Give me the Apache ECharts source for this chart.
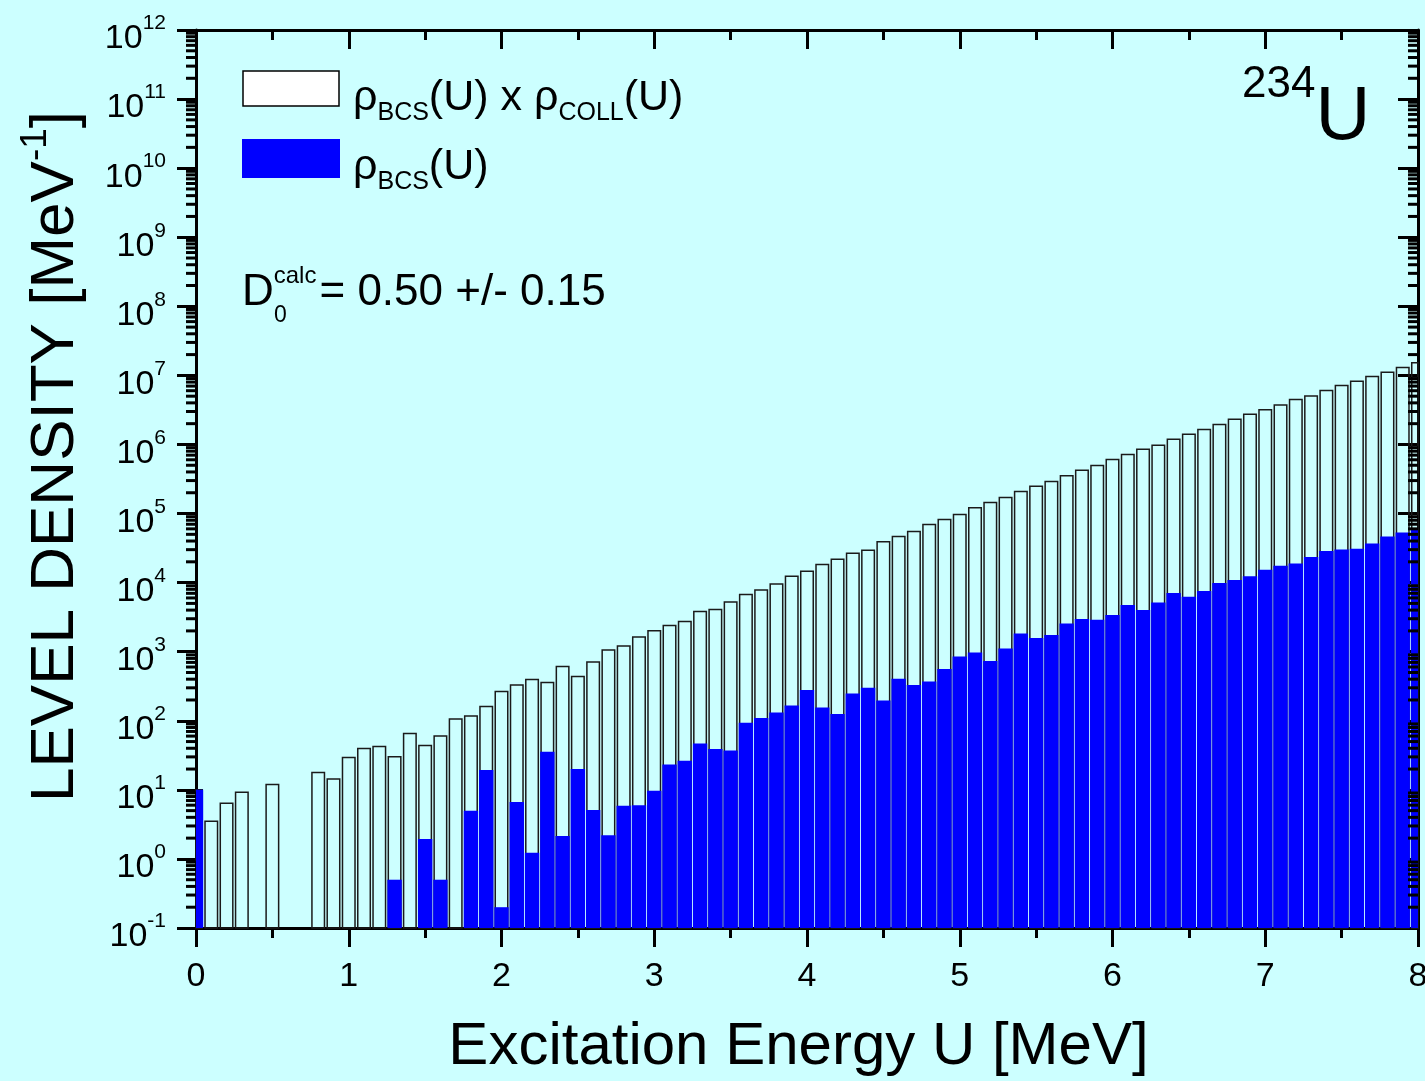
<!DOCTYPE html>
<html>
<head>
<meta charset="utf-8">
<title>234U level density</title>
<script src="https://cdn.jsdelivr.net/npm/echarts@6/dist/echarts.min.js"></script>
<style>
html, body { margin: 0; padding: 0; background: #ccffff; overflow: hidden; }
#chart { width: 1425px; height: 1081px; }
</style>
</head>
<body>
<div id="chart"></div>
<script>
var FONT = "'Liberation Sans', Arial, Helvetica, sans-serif";

// excitation energy bins [MeV]
var energies = [
	0.0, 0.1, 0.2, 0.3, 0.4, 0.5, 0.6, 0.7, 0.8, 0.9,
	1.0, 1.1, 1.2, 1.3, 1.4, 1.5, 1.6, 1.7, 1.8, 1.9,
	2.0, 2.1, 2.2, 2.3, 2.4, 2.5, 2.6, 2.7, 2.8, 2.9,
	3.0, 3.1, 3.2, 3.3, 3.4, 3.5, 3.6, 3.7, 3.8, 3.9,
	4.0, 4.1, 4.2, 4.3, 4.4, 4.5, 4.6, 4.7, 4.8, 4.9,
	5.0, 5.1, 5.2, 5.3, 5.4, 5.5, 5.6, 5.7, 5.8, 5.9,
	6.0, 6.1, 6.2, 6.3, 6.4, 6.5, 6.6, 6.7, 6.8, 6.9,
	7.0, 7.1, 7.2, 7.3, 7.4, 7.5, 7.6, 7.7, 7.8, 7.9,
	8.0
];
// rho_BCS(U) x rho_COLL(U)  (open bars)
var rhoTotal = [
	10, 3.5, 6.4, 9.2, null, 12.0, null, null, 17.9, 14.3,
	29.4, 39.7, 42.5, 30.1, 65.5, 44, 60, 106, 117, 161,
	266, 329, 396, 358, 611, 437, 707, 1055, 1205, 1627,
	2009, 2393, 2737, 3819, 4080, 5220, 6725, 7790, 9510, 12400,
	14660, 18280, 21880, 26720, 29530, 38920, 46460, 54900, 69300, 81900,
	96800, 120900, 144300, 170500, 208000, 249000, 290500, 351400, 424700, 495000,
	605000, 714000, 855000, 977000, 1190000, 1410000, 1640000, 1940000, 2320000, 2740000,
	3170000, 3740000, 4470000, 5050000, 6030000, 7120000, 8240000, 9600000, 11100000, 13000000,
	15300000
];
// rho_BCS(U)  (filled bars)
var rhoBCS = [
	10, null, null, null, null, null, null, null, null, null,
	null, null, null, 0.5, null, 1.94, 0.5, null, 5.0, 19.4,
	0.2, 6.65, 1.23, 35.6, 2.14, 20, 5.1, 2.2, 5.9, 6.0,
	9.7, 23.3, 26.4, 46.9, 38.9, 37.2, 93.6, 110, 132, 167,
	278, 156, 125, 248, 300, 197, 405, 329, 371, 560,
	853, 973, 731, 1113, 1834, 1573, 1738, 2560, 2964, 2896,
	3388, 4725, 4000, 5152, 7050, 6230, 7540, 9840, 10870, 12400,
	15320, 17500, 18900, 23400, 28580, 30150, 30830, 36800, 46460, 53100,
	58100
];
var xTicks = [0, 1, 2, 3, 4, 5, 6, 7, 8];
var yMin = 0.1, yMax = 1e12;
var minorMult = [2, 3, 4, 5, 6, 7, 8, 9];
var decades = [-1, 0, 1, 2, 3, 4, 5, 6, 7, 8, 9, 10, 11];

var minorVals = [];
decades.forEach(function (k) {
	minorMult.forEach(function (m) {
		minorVals.push([0, m * Math.pow(10, k)]);
	});
});

function pairs(vals) {
	var out = [];
	for (var i = 0; i < energies.length; i++) {
		if (vals[i] != null) out.push([energies[i], vals[i]]);
	}
	return out;
}

function barRender(width, style) {
	return function (params, api) {
		var u = api.value(0), v = api.value(1);
		var p0 = api.coord([u - width / 2, v]);
		var p1 = api.coord([u + width / 2, yMin]);
		var rect = echarts.graphic.clipRectByRect(
			{ x: p0[0], y: p0[1], width: p1[0] - p0[0], height: p1[1] - p0[1] },
			{ x: params.coordSys.x, y: params.coordSys.y, width: params.coordSys.width, height: params.coordSys.height }
		);
		if (!rect) return null;
		return { type: 'rect', shape: rect, style: style };
	};
}

function minorTickRender(params, api) {
	var v = api.value(1);
	var l = api.coord([xTicks[0], v]);
	var r = api.coord([xTicks[xTicks.length - 1], v]);
	var st = { stroke: '#000', lineWidth: 3 };
	return {
		type: 'group',
		children: [
			{ type: 'line', shape: { x1: l[0] - 10, y1: l[1], x2: l[0], y2: l[1] }, style: st },
			{ type: 'line', shape: { x1: r[0] - 10, y1: r[1], x2: r[0], y2: r[1] }, style: st }
		]
	};
}

var axisLineStyle = { color: '#000', width: 3 };
var legendRich = {
	m: { fontSize: 43, lineHeight: 43, fontFamily: FONT, fill: '#000', verticalAlign: 'top' },
	s: { fontSize: 25, lineHeight: 25, fontFamily: FONT, fill: '#000', verticalAlign: 'top', padding: [24, 0, 0, 0] }
};

var chart = echarts.init(document.getElementById('chart'));
chart.setOption({
	animation: false,
	backgroundColor: '#ccffff',
	grid: { left: 196, right: 7, top: 30, bottom: 153, containLabel: false, outerBoundsMode: 'none' },
	xAxis: [{
		type: 'value', position: 'bottom', min: 0, max: 8, interval: 1,
		axisLine: { onZero: false, lineStyle: axisLineStyle },
		axisTick: { inside: false, length: 19, lineStyle: { color: '#000', width: 3 } },
		minorTick: { show: true, splitNumber: 2, length: 10, lineStyle: { color: '#000', width: 3 } },
		splitLine: { show: false },
		axisLabel: { color: '#000', fontSize: 34, fontFamily: FONT, margin: 32 },
		name: 'Excitation Energy U [MeV]',
		nameLocation: 'middle', nameGap: 89,
		nameTextStyle: { color: '#000', fontSize: 60, fontFamily: FONT, padding: [0, 17, 0, 0] }
	}, {
		type: 'value', position: 'top', min: 0, max: 8, interval: 1,
		axisLine: { onZero: false, lineStyle: axisLineStyle },
		axisTick: { inside: true, length: 19, lineStyle: { color: '#000', width: 3 } },
		minorTick: { show: true, splitNumber: 2, length: 10, lineStyle: { color: '#000', width: 3 } },
		splitLine: { show: false },
		axisLabel: { show: false }
	}],
	yAxis: [{
		type: 'log', logBase: 10, position: 'left', min: yMin, max: yMax, interval: 1,
		axisLine: { onZero: false, lineStyle: axisLineStyle },
		axisTick: { inside: false, length: 19, lineStyle: { color: '#000', width: 3 } },
		splitLine: { show: false },
		axisLabel: {
			color: '#000', margin: 30, showMinLabel: true, showMaxLabel: true,
			formatter: function (val) {
				return '{b|10}{e|' + Math.round(Math.log10(val)) + '}';
			},
			rich: {
				b: { fontSize: 34, lineHeight: 34, fontFamily: FONT, color: '#000', verticalAlign: 'top', padding: [9, 0, 0, 0] },
				e: { fontSize: 21, lineHeight: 21, fontFamily: FONT, color: '#000', verticalAlign: 'top' }
			}
		},
		name: '{m|LEVEL DENSITY [MeV}{s|-1}{m|]}',
		nameLocation: 'middle', nameGap: 117, nameRotate: 90,
		nameTextStyle: {
			padding: [0, 0, 0, 45],
			rich: {
				m: { fontSize: 62, lineHeight: 62, fontFamily: FONT, color: '#000', verticalAlign: 'top', padding: [8, 0, 0, 0] },
				s: { fontSize: 37, lineHeight: 37, fontFamily: FONT, color: '#000', verticalAlign: 'top' }
			}
		}
	}, {
		type: 'log', logBase: 10, position: 'right', min: yMin, max: yMax, interval: 1,
		axisLine: { onZero: false, lineStyle: axisLineStyle },
		axisTick: { inside: true, length: 20, lineStyle: { color: '#000', width: 3 } },
		splitLine: { show: false },
		axisLabel: { show: false }
	}],
	series: [{
		name: 'rhoTotal', type: 'custom', xAxisIndex: 0, yAxisIndex: 0,
		renderItem: barRender(0.082, { fill: 'none', stroke: '#1a1a1a', lineWidth: 1.5 }),
		data: pairs(rhoTotal), silent: true
	}, {
		name: 'rhoBCS', type: 'custom', xAxisIndex: 0, yAxisIndex: 0,
		renderItem: barRender(0.094, { fill: '#0000ff' }),
		data: pairs(rhoBCS), silent: true
	}, {
		name: 'minorTicks', type: 'custom', xAxisIndex: 0, yAxisIndex: 0,
		renderItem: minorTickRender, data: minorVals, silent: true, clip: false
	}],
	graphic: [
		// legend boxes
		{ type: 'rect', shape: { x: 243, y: 71, width: 96, height: 35 }, style: { fill: '#fff', stroke: '#000', lineWidth: 1.5 } },
		{ type: 'rect', shape: { x: 242, y: 139, width: 98, height: 39 }, style: { fill: '#0000ff' } },
		{
			type: 'text', x: 353, y: 77,
			style: { text: '{m|ρ}{s|BCS}{m|(U) x ρ}{s|COLL}{m|(U)}', align: 'left', verticalAlign: 'top', rich: legendRich }
		},
		{
			type: 'text', x: 353, y: 146,
			style: { text: '{m|ρ}{s|BCS}{m|(U)}', align: 'left', verticalAlign: 'top', rich: legendRich }
		},
		// D0 calc
		{
			type: 'text', x: 242, y: 264,
			style: {
				text: '{m|D}{u|calc}{m|= 0.50 +/- 0.15}', align: 'left', verticalAlign: 'top',
				rich: {
					m: { fontSize: 44, lineHeight: 44, fontFamily: FONT, fill: '#000', verticalAlign: 'top', padding: [7, 0, 0, 0] },
					u: { fontSize: 24, lineHeight: 24, fontFamily: FONT, fill: '#000', verticalAlign: 'top', padding: [0, 3, 0, 0] }
				}
			}
		},
		{
			type: 'text', x: 274, y: 316,
			style: { text: '0', fontSize: 23, fontFamily: FONT, fill: '#000', align: 'left', verticalAlign: 'middle' }
		},
		// nucleus label
		{
			type: 'text', x: 1242, y: 63,
			style: {
				text: '{s|234}{m|U}', align: 'left', verticalAlign: 'top',
				rich: {
					s: { fontSize: 44, lineHeight: 44, fontFamily: FONT, fill: '#000', verticalAlign: 'top' },
					m: { fontSize: 76, lineHeight: 76, fontFamily: FONT, fill: '#000', verticalAlign: 'top', padding: [17, 0, 0, 0] }
				}
			}
		}
	]
});
</script>
</body>
</html>
